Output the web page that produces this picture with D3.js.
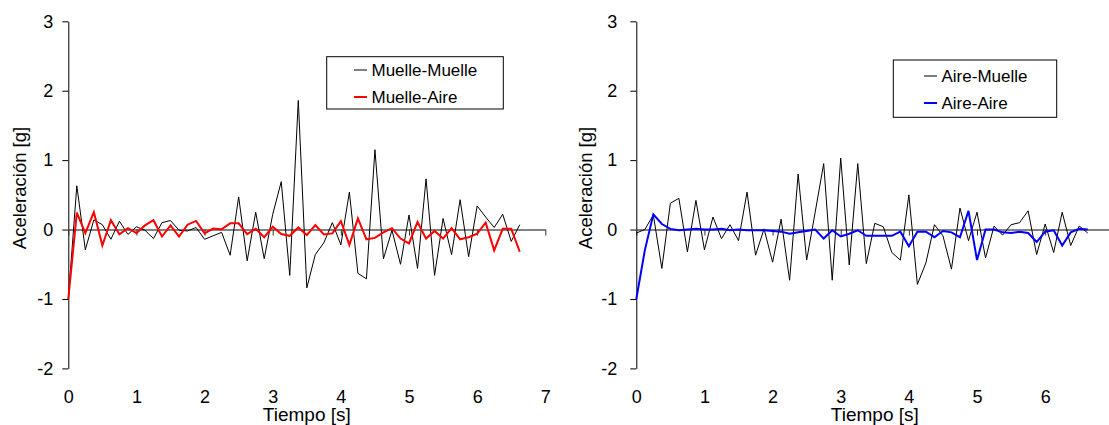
<!DOCTYPE html>
<html>
<head>
<meta charset="utf-8">
<script src="https://cdn.jsdelivr.net/npm/d3@7"></script>
<style>
    body { margin: 0; background: #ffffff; }
    svg text { font-family: "Liberation Sans", Arial, sans-serif; fill: #000; }
</style>
</head>
<body>
<div id="chart"></div>
<script>
// Sample times [s]
var tiempo = [0, 0.125, 0.25, 0.375, 0.5, 0.625, 0.75, 0.875, 1, 1.125, 1.25, 1.375, 1.5, 1.625, 1.75, 1.875,
    2, 2.125, 2.25, 2.375, 2.5, 2.625, 2.75, 2.875, 3, 3.125, 3.25, 3.375, 3.5, 3.625, 3.75, 3.875,
    4, 4.125, 4.25, 4.375, 4.5, 4.625, 4.75, 4.875, 5, 5.125, 5.25, 5.375, 5.5, 5.625, 5.75, 5.875,
    6, 6.125, 6.25, 6.375, 6.5, 6.625];

// Acceleration [g], left chart
var muelleMuelle = [-1.0, 0.63, -0.29, 0.14, 0.07, -0.14, 0.12, -0.07, 0.04, -0.01, -0.13, 0.10, 0.13, -0.01, -0.02, 0.03,
    -0.14, -0.09, -0.04, -0.37, 0.47, -0.45, 0.25, -0.42, 0.22, 0.69, -0.66, 1.86, -0.84, -0.36, -0.19, 0.10,
    -0.22, 0.54, -0.63, -0.71, 1.15, -0.42, -0.01, -0.50, 0.21, -0.56, 0.73, -0.66, 0.16, -0.36, 0.43, -0.39,
    0.34, 0.18, 0.03, 0.22, -0.17, 0.07];
var muelleAire = [-1.0, 0.245, -0.05, 0.25, -0.23, 0.135, -0.07, 0.02, -0.05, 0.06, 0.135, -0.10, 0.06, -0.10, 0.07, 0.125,
    -0.055, 0.015, 0.005, 0.09, 0.09, -0.065, 0.01, -0.11, 0.04, -0.065, -0.09, 0.03, -0.08, 0.065, -0.07, -0.055,
    0.12, -0.22, 0.16, -0.14, -0.12, -0.04, 0.02, -0.13, -0.20, 0.11, -0.13, -0.02, -0.13, 0.02, -0.14, -0.11,
    -0.06, 0.10, -0.30, 0.01, 0.01, -0.32];

// Acceleration [g], right chart
var aireMuelle = [-0.05, 0.0, 0.21, -0.56, 0.38, 0.45, -0.32, 0.42, -0.29, 0.18, -0.13, 0.07, -0.16, 0.54, -0.37, 0.01,
    -0.47, 0.15, -0.73, 0.80, -0.44, 0.25, 0.95, -0.73, 1.03, -0.51, 0.95, -0.49, 0.09, 0.04, -0.33, -0.44,
    0.50, -0.79, -0.48, 0.07, -0.09, -0.57, 0.31, -0.16, 0.25, -0.41, 0.05, -0.08, 0.07, 0.10, 0.27, -0.36,
    0.08, -0.33, 0.25, -0.23, 0.05, -0.05];
var aireAire = [-1.0, -0.30, 0.22, 0.08, 0.01, -0.01, 0.0, 0.01, 0.0, 0.0, 0.01, -0.01, 0.0, -0.01, -0.01, -0.01,
    -0.02, -0.03, -0.06, -0.04, -0.02, 0.0, -0.13, -0.01, -0.10, -0.06, -0.01, -0.09, -0.09, -0.09, -0.09, -0.03,
    -0.24, -0.03, -0.03, -0.11, -0.02, -0.04, -0.11, 0.27, -0.44, 0.0, 0.0, -0.04, -0.05, -0.03, -0.05, -0.18,
    -0.03, -0.01, -0.23, -0.04, 0.01, 0.0];

var xTicks = [0, 1, 2, 3, 4, 5, 6, 7];
var yTicks = [-2, -1, 0, 1, 2, 3];

var svg = d3.select("#chart")
    .append("svg")
    .attr("width", 1109)
    .attr("height", 425);

var panels = [
    {
        left: 68.3, labelPad: 9, titleX: 25.5,
        series: [
            { name: "Muelle-Muelle", values: muelleMuelle, color: "#000000", width: 1 },
            { name: "Muelle-Aire", values: muelleAire, color: "#ff0000", width: 2 }
        ],
        legend: { x: 326.7, y: 56.7, w: 176.6, h: 52.3, lineX: 354, rowY: [70, 97] }
    },
    {
        left: 636.3, labelPad: 13, titleX: 591.5,
        series: [
            { name: "Aire-Muelle", values: aireMuelle, color: "#000000", width: 1 },
            { name: "Aire-Aire", values: aireAire, color: "#0000ff", width: 2 }
        ],
        legend: { x: 893.3, y: 60, w: 163.4, h: 57.3, lineX: 924, rowY: [76, 103] }
    }
];

// plain hyphen for negatives, like the original
function fmt(d) { return String(d); }

function drawPanel(p) {
    var x = d3.scaleLinear().domain([0, 7]).range([p.left, p.left + 477]);
    var y = d3.scaleLinear().domain([-2, 3]).range([368.4, 21.3]);

    // Y axis
    var yAxis = svg.append("g")
        .attr("transform", "translate(" + p.left + ",0)")
        .call(d3.axisLeft(y).tickValues(yTicks).tickFormat(fmt)
            .tickSize(6).tickSizeOuter(0).tickPadding(p.labelPad));
    yAxis.selectAll("text").style("font-size", "18px").attr("font-family", null);
    yAxis.selectAll("line, path").attr("stroke", "#000");

    // X axis line through zero
    var xAxis = svg.append("g")
        .attr("transform", "translate(0," + y(0) + ")")
        .call(d3.axisBottom(x).tickValues(xTicks).tickSize(6).tickSizeOuter(0).tickFormat(""));
    xAxis.select(".domain").attr("stroke", "#595959").attr("stroke-width", 1.5);
    xAxis.selectAll(".tick line").attr("stroke", "#333");

    // X tick labels at the bottom
    var xLabels = svg.append("g")
        .attr("transform", "translate(0," + y(-2) + ")")
        .call(d3.axisBottom(x).tickValues(xTicks).tickFormat(fmt).tickSize(0).tickPadding(22));
    xLabels.select(".domain").remove();
    xLabels.selectAll("text").style("font-size", "18px").attr("font-family", null);

    // Data lines
    p.series.forEach(function (s) {
        var line = d3.line()
            .x(function (d, i) { return x(tiempo[i]); })
            .y(function (d) { return y(d); });
        svg.append("path")
            .datum(s.values)
            .attr("d", line)
            .attr("fill", "none")
            .attr("stroke", s.color)
            .attr("stroke-width", s.width)
            .attr("stroke-linejoin", "miter");
    });

    // Axis titles
    svg.append("text")
        .attr("text-anchor", "middle")
        .attr("x", (x(0) + x(7)) / 2)
        .attr("y", 421)
        .style("font-size", "19px")
        .text("Tiempo [s]");

    svg.append("text")
        .attr("text-anchor", "middle")
        .attr("transform", "translate(" + p.titleX + ",188) rotate(-90)")
        .style("font-size", "18.5px")
        .text("Aceleración [g]");

    // Legend
    var lg = p.legend;
    svg.append("rect")
        .attr("x", lg.x)
        .attr("y", lg.y)
        .attr("width", lg.w)
        .attr("height", lg.h)
        .attr("fill", "#fff")
        .attr("stroke", "#000")
        .attr("stroke-width", 1);

    p.series.forEach(function (s, i) {
        svg.append("line")
            .attr("x1", lg.lineX)
            .attr("x2", lg.lineX + 13)
            .attr("y1", lg.rowY[i])
            .attr("y2", lg.rowY[i])
            .attr("stroke", s.color)
            .attr("stroke-width", s.width);
        svg.append("text")
            .attr("x", lg.lineX + 17.5)
            .attr("y", lg.rowY[i])
            .attr("dy", "0.35em")
            .style("font-size", "17px")
            .text(s.name);
    });
}

panels.forEach(drawPanel);
</script>
</body>
</html>
